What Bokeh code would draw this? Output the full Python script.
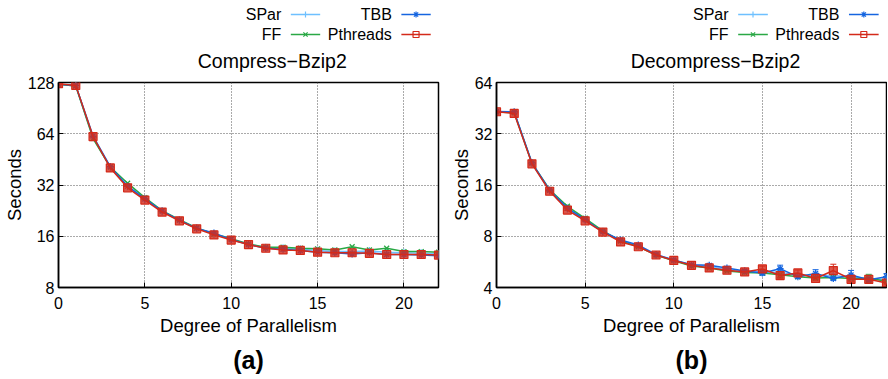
from bokeh.plotting import figure
from bokeh.models import (Range1d, FixedTicker, PrintfTickFormatter, Title, Whisker,
                          ColumnDataSource, TeeHead)
from bokeh.layouts import row, column
from bokeh.embed import file_html
from bokeh.resources import INLINE
from bokeh.core.properties import value

# ---------------- data ----------------
threads = list(range(23))

series = ["SPar", "FF", "TBB", "Pthreads"]

compress_spar = [125, 122, 61.0, 40.5, 31.5, 26.5, 22.4, 19.8, 17.8, 16.5, 15.3, 14.4, 13.7,
                 13.6, 13.4, 13.2, 13.0, 13.0, 13.1, 12.9, 12.8, 12.7, 12.6]
compress_ff = [125, 122, 60.0, 40.8, 32.8, 27.0, 22.6, 20.0, 17.9, 16.5, 15.5, 14.4, 13.8,
               13.8, 13.6, 13.5, 13.3, 13.9, 13.3, 13.6, 13.0, 13.0, 12.9]
compress_tbb = [125, 123, 62.0, 41.0, 31.5, 26.5, 22.5, 19.9, 17.8, 16.7, 15.3, 14.3, 13.6,
                13.4, 13.2, 12.9, 12.8, 12.6, 12.8, 12.5, 12.5, 12.4, 12.3]
compress_pthreads = [126, 123, 61.6, 40.3, 30.8, 26.1, 22.2, 19.7, 17.7, 16.3, 15.2, 14.3, 13.6,
                     13.3, 13.2, 12.9, 12.8, 12.8, 12.7, 12.5, 12.5, 12.5, 12.4]

decompress_spar = [43.0, 42.8, 21.4, 14.8, 11.6, 10.0, 8.5, 7.5, 7.0, 6.2, 5.78, 5.42, 5.30,
                   5.10, 4.98, 4.95, 4.90, 4.75, 4.70, 4.70, 4.60, 4.50, 4.45]
decompress_ff = [43.0, 42.5, 21.5, 15.0, 12.0, 10.2, 8.6, 7.5, 6.95, 6.2, 5.75, 5.35, 5.20,
                 5.00, 4.90, 4.86, 4.75, 4.62, 4.55, 4.58, 4.52, 4.53, 4.35]
decompress_tbb = [43.2, 43.0, 21.6, 14.9, 11.7, 10.0, 8.5, 7.6, 7.1, 6.25, 5.80, 5.45, 5.40,
                  5.20, 5.00, 4.87, 5.16, 4.62, 4.84, 4.52, 4.74, 4.44, 4.63]
decompress_pthreads = [43.1, 42.1, 21.3, 14.7, 11.4, 9.86, 8.46, 7.41, 6.94, 6.21, 5.77, 5.40, 5.21,
                       5.05, 4.94, 5.14, 4.70, 4.87, 4.52, 5.03, 4.47, 4.47, 4.25]

# standard deviations (seconds) for decompress
decompress_spar_err = [0.2, 0.2, 0.1, 0.1, 0.05, 0.05, 0.05, 0.05, 0.05, 0.05, 0.05, 0.05, 0.05,
                       0.05, 0.05, 0.1, 0.1, 0.1, 0.1, 0.1, 0.1, 0.1, 0.1]
decompress_ff_err = [0.2, 0.2, 0.1, 0.1, 0.05, 0.05, 0.05, 0.05, 0.05, 0.05, 0.05, 0.05, 0.05,
                     0.05, 0.05, 0.1, 0.2, 0.1, 0.1, 0.1, 0.1, 0.25, 0.1]
decompress_tbb_err = [0.2, 0.2, 0.1, 0.1, 0.05, 0.05, 0.05, 0.1, 0.1, 0.05, 0.05, 0.05, 0.1,
                      0.1, 0.1, 0.15, 0.25, 0.1, 0.25, 0.1, 0.3, 0.1, 0.2]
decompress_pthreads_err = [0.2, 0.2, 0.1, 0.1, 0.05, 0.05, 0.05, 0.05, 0.05, 0.05, 0.05, 0.05, 0.05,
                           0.05, 0.05, 0.2, 0.15, 0.2, 0.1, 0.45, 0.15, 0.1, 0.1]

x_ticks = [0, 5, 10, 15, 20]
compress_y_ticks = [8, 16, 32, 64, 128]
decompress_y_ticks = [4, 8, 16, 32, 64]

# ---------------- style ----------------
FONT = "Liberation Sans"
colors = {"SPar": "#6ec0ff", "FF": "#2aa845", "TBB": "#1565e0", "Pthreads": "#d42a1a"}
markers = {"SPar": "cross", "FF": "x", "TBB": "asterisk", "Pthreads": "square"}
msize = {"SPar": 8, "FF": 7, "TBB": 7, "Pthreads": 8}

HEAD_H = 72
PLOT_H = 306


def make_panel(ymin, ymax, yticks, data, errs, label, width, bl, br):
    p = figure(width=width, height=PLOT_H, y_axis_type="log",
               x_range=Range1d(0, 22), y_range=Range1d(ymin, ymax),
               output_backend="svg", toolbar_location=None,
               min_border_left=bl, min_border_right=br,
               min_border_top=10, min_border_bottom=88)

    p.xaxis.ticker = FixedTicker(ticks=x_ticks)
    p.yaxis.ticker = FixedTicker(ticks=yticks)
    p.xgrid.ticker = FixedTicker(ticks=x_ticks)
    p.ygrid.ticker = FixedTicker(ticks=yticks)
    p.yaxis.formatter = PrintfTickFormatter(format="%d")

    for ax in (p.xaxis, p.yaxis):
        ax.major_tick_in = 5
        ax.major_tick_out = 0
        ax.minor_tick_in = 0
        ax.minor_tick_out = 0
        ax.axis_line_color = "black"
        ax.axis_line_width = 1.5
        ax.major_tick_line_color = "black"
        ax.major_label_text_font = FONT
        ax.major_label_text_font_size = "16px"
        ax.major_label_text_color = "black"
        ax.axis_label_text_font = FONT
        ax.axis_label_text_font_size = "18.5px"
        ax.axis_label_text_font_style = "normal"
        ax.axis_label_text_color = "black"
    p.xaxis.major_label_standoff = 9
    p.yaxis.major_label_standoff = 4
    p.xaxis.axis_label = "Degree of Parallelism"
    p.yaxis.axis_label = "Seconds"
    p.xaxis.axis_label_standoff = 3
    p.yaxis.axis_label_standoff = 0

    p.grid.grid_line_color = "#555555"
    p.grid.grid_line_dash = "1 2"
    p.grid.grid_line_width = 1
    p.outline_line_color = "black"
    p.outline_line_width = 1.5
    p.background_fill_color = "white"
    p.border_fill_color = "white"

    for name in series:
        y = data[name]
        c = colors[name]
        if errs is not None:
            e = errs[name]
            src = ColumnDataSource(dict(x=threads,
                                        upper=[a + b for a, b in zip(y, e)],
                                        lower=[a - b for a, b in zip(y, e)]))
            p.add_layout(Whisker(source=src, base="x", upper="upper", lower="lower",
                                 line_color=c, line_width=1,
                                 upper_head=TeeHead(size=6, line_color=c, line_width=1),
                                 lower_head=TeeHead(size=6, line_color=c, line_width=1)))
        p.line(threads, y, line_color=c, line_width=1.5)
        if name == "Pthreads":
            p.scatter(threads, y, marker="square", size=msize[name], line_color=c,
                      fill_color=c, fill_alpha=0.8, line_width=1.2)
        else:
            p.scatter(threads, y, marker=markers[name], size=msize[name], line_color=c,
                      fill_color=c, line_width=1.3)

    p.add_layout(Title(text=label, align="center", text_font=FONT, text_font_size="25px",
                       text_font_style="bold", text_color="black"), "below")
    return p


def make_header(width, title, title_x, text_right_1, text_right_2):
    lf = figure(width=width, height=HEAD_H, x_range=Range1d(0, width), y_range=Range1d(HEAD_H, 0),
                output_backend="svg", toolbar_location=None, min_border=0,
                x_axis_location=None, y_axis_location=None)
    lf.grid.visible = False
    lf.outline_line_color = None
    rows_y = [14, 34]
    layout = [("SPar", text_right_1, rows_y[0]), ("FF", text_right_1, rows_y[1]),
              ("TBB", text_right_2, rows_y[0]), ("Pthreads", text_right_2, rows_y[1])]
    for name, tx, ty in layout:
        c = colors[name]
        lf.text(x=[tx], y=[ty], text=[name], text_align="right", text_baseline="middle",
                text_font=value(FONT), text_font_size="16px", text_color="black")
        x0, x1 = tx + 11, tx + 45
        lf.line([x0, x1], [ty, ty], line_color=c, line_width=1.5)
        if name == "Pthreads":
            lf.scatter([(x0 + x1) / 2], [ty], marker="square", size=6, line_color=c,
                       fill_color=None, line_width=1.2)
        else:
            lf.scatter([(x0 + x1) / 2], [ty], marker=markers[name], size=6, line_color=c,
                       fill_color=c, line_width=1.2)
    lf.text(x=[title_x], y=[60], text=[title], text_align="center", text_baseline="middle",
            text_font=value(FONT), text_font_size="19.5px", text_color="black")
    return lf


comp_data = {"SPar": compress_spar, "FF": compress_ff, "TBB": compress_tbb,
             "Pthreads": compress_pthreads}
decomp_data = {"SPar": decompress_spar, "FF": decompress_ff, "TBB": decompress_tbb,
               "Pthreads": decompress_pthreads}
decomp_errs = {"SPar": decompress_spar_err, "FF": decompress_ff_err, "TBB": decompress_tbb_err,
               "Pthreads": decompress_pthreads_err}

W_A, W_B = 440, 447
BL_A, BR_A, BL_B, BR_B = 57, 2, 56, 1
pa = make_panel(8, 128, compress_y_ticks, comp_data, None, "(a)", W_A, BL_A, BR_A)
pb = make_panel(4, 64, decompress_y_ticks, decomp_data, decomp_errs, "(b)", W_B, BL_B, BR_B)
ha = make_header(W_A, "Compress\u2212Bzip2", (BL_A + W_A - BR_A) / 2, 258, 386)
hb = make_header(W_B, "Decompress\u2212Bzip2", (BL_B + W_B - BR_B) / 2, 266, 393)

layout = row(column(ha, pa), column(hb, pb))

open("out.html", "w").write(file_html(layout, INLINE))
